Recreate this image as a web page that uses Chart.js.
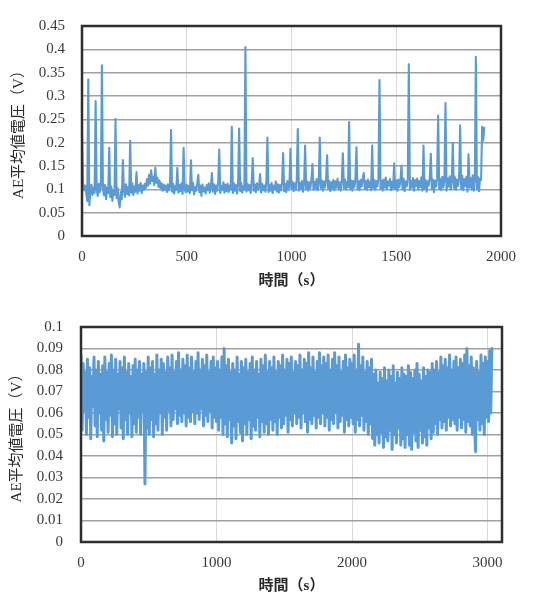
<!DOCTYPE html>
<html>
<head>
<meta charset="utf-8">
<script src="https://cdn.jsdelivr.net/npm/chart.js@4/dist/chart.umd.min.js"></script>
<style>
  html, body { margin: 0; padding: 0; background: #ffffff; }
  #wrap { position: relative; width: 541px; height: 595px; }
  #c1 { position: absolute; left: 0; top: 0; }
  #c2 { position: absolute; left: 0; top: 300px; }
</style>
</head>
<body>
<div id="wrap">
  <canvas id="c1" width="541" height="300"></canvas>
  <canvas id="c2" width="541" height="295"></canvas>
</div>
<script>
// ---------- DATA ----------
const xTitle = "時間（s）";
const yTitle = "AE平均値電圧（V）";

// Top chart: sampled every 5 s starting at 0 s
const topTimeStep = 5;
const topVoltages = [
  0.223,0.112,0.098,0.108,0.093,0.075,0.336,0.066,0.095,0.11,0.088,0.104,0.092,0.289,0.1,0.086,0.112,0.094,0.108,0.366,
  0.101,0.087,0.109,0.079,0.104,0.092,0.189,0.083,0.106,0.075,0.098,0.088,0.251,0.081,0.102,0.072,0.061,0.094,0.079,0.163,
  0.097,0.084,0.111,0.09,0.105,0.087,0.204,0.093,0.113,0.088,0.106,0.095,0.137,0.091,0.109,0.097,0.114,0.092,0.108,0.099,
  0.112,0.103,0.122,0.108,0.131,0.112,0.141,0.118,0.127,0.109,0.146,0.114,0.125,0.105,0.119,0.102,0.113,0.097,0.11,0.099,
  0.108,0.094,0.111,0.098,0.106,0.227,0.095,0.112,0.091,0.107,0.099,0.146,0.093,0.109,0.096,0.113,0.09,0.189,0.101,0.094,
  0.11,0.095,0.107,0.092,0.162,0.098,0.114,0.089,0.105,0.097,0.112,0.131,0.094,0.108,0.086,0.11,0.096,0.104,0.091,0.109,
  0.098,0.113,0.093,0.106,0.135,0.095,0.111,0.09,0.108,0.097,0.114,0.185,0.092,0.107,0.099,0.115,0.093,0.11,0.096,0.112,
  0.094,0.108,0.099,0.234,0.092,0.113,0.097,0.109,0.091,0.111,0.23,0.096,0.114,0.093,0.107,0.099,0.405,0.095,0.112,0.098,
  0.109,0.092,0.115,0.167,0.097,0.11,0.094,0.113,0.099,0.106,0.133,0.093,0.112,0.098,0.108,0.095,0.116,0.211,0.094,0.109,
  0.097,0.114,0.092,0.108,0.1,0.117,0.095,0.111,0.093,0.109,0.098,0.115,0.178,0.096,0.112,0.094,0.118,0.099,0.107,0.187,
  0.101,0.116,0.096,0.113,0.099,0.121,0.229,0.097,0.114,0.102,0.118,0.095,0.112,0.194,0.1,0.117,0.097,0.115,0.103,0.12,
  0.154,0.099,0.116,0.101,0.122,0.098,0.114,0.211,0.103,0.119,0.097,0.117,0.104,0.121,0.173,0.1,0.118,0.096,0.115,0.102,
  0.12,0.098,0.117,0.104,0.123,0.1,0.115,0.097,0.119,0.177,0.103,0.121,0.099,0.116,0.105,0.244,0.101,0.119,0.097,0.118,
  0.104,0.122,0.19,0.1,0.117,0.098,0.12,0.106,0.124,0.135,0.101,0.118,0.099,0.121,0.105,0.116,0.098,0.194,0.103,0.12,
  0.099,0.118,0.106,0.123,0.334,0.102,0.119,0.097,0.121,0.104,0.125,0.1,0.117,0.108,0.122,0.098,0.116,0.103,0.156,0.101,
  0.119,0.097,0.121,0.105,0.118,0.151,0.1,0.123,0.096,0.117,0.106,0.122,0.368,0.099,0.118,0.104,0.124,0.097,0.12,0.107,
  0.123,0.099,0.118,0.105,0.126,0.097,0.194,0.102,0.12,0.095,0.117,0.108,0.125,0.176,0.1,0.121,0.094,0.119,0.106,0.124,
  0.258,0.101,0.122,0.098,0.127,0.104,0.119,0.285,0.097,0.123,0.106,0.128,0.1,0.12,0.199,0.103,0.126,0.099,0.121,0.107,
  0.125,0.237,0.101,0.129,0.098,0.122,0.107,0.127,0.095,0.175,0.104,0.124,0.1,0.13,0.097,0.121,0.384,0.102,0.126,0.096,
  0.123,0.12,0.234,0.205,0.232
];
const topXTicks = [0, 500, 1000, 1500, 2000];
const topYTicks = [0, 0.05, 0.1, 0.15, 0.2, 0.25, 0.3, 0.35, 0.4, 0.45];

// Bottom chart: sampled every 8 s starting at 0 s
const bottomTimeStep = 8;
const bottomVoltages = [
  .087,.052,.083,.061,.079,.05,.085,.058,.081,.048,.077,.063,.086,.054,.08,.049,.084,.06,.078,.052,.082,.047,.086,.057,.079,
  .051,.083,.059,.087,.049,.08,.055,.085,.05,.078,.062,.084,.053,.081,.048,.086,.057,.079,.05,.083,.06,.077,.049,.082,.055,
  .085,.051,.08,.058,.084,.05,.078,.061,.083,.027,.079,.053,.086,.05,.081,.057,.084,.049,.078,.055,.087,.052,.08,.06,.085,
  .05,.083,.058,.079,.052,.086,.061,.081,.054,.087,.057,.079,.062,.084,.055,.088,.059,.08,.056,.085,.06,.082,.054,.087,.058,
  .081,.056,.086,.061,.079,.055,.084,.06,.088,.057,.08,.062,.085,.054,.082,.059,.087,.056,.079,.061,.084,.053,.086,.058,.081,
  .056,.084,.052,.08,.058,.086,.05,.09,.055,.082,.049,.085,.057,.079,.046,.083,.054,.08,.048,.086,.056,.078,.051,.084,.047,
  .081,.055,.085,.05,.079,.057,.083,.048,.086,.054,.08,.052,.084,.058,.078,.049,.085,.056,.082,.051,.087,.055,.079,.05,.084,
  .057,.081,.052,.086,.056,.079,.05,.084,.058,.082,.053,.087,.055,.08,.059,.085,.051,.083,.057,.086,.054,.079,.06,.084,.055,
  .082,.058,.087,.053,.08,.06,.085,.056,.083,.051,.088,.057,.081,.055,.086,.059,.079,.053,.084,.058,.088,.055,.082,.06,.086,
  .054,.083,.058,.087,.052,.08,.057,.085,.055,.088,.06,.082,.053,.086,.056,.079,.059,.084,.051,.087,.057,.081,.054,.085,.058,
  .083,.055,.087,.051,.08,.057,.092,.054,.082,.059,.086,.052,.079,.056,.084,.05,.081,.055,.085,.048,.078,.045,.08,.05,.074,
  .046,.079,.051,.076,.044,.081,.049,.075,.047,.08,.052,.077,.043,.082,.05,.074,.046,.079,.053,.076,.045,.081,.048,.078,.044,
  .077,.05,.082,.045,.079,.043,.076,.051,.08,.047,.083,.044,.078,.052,.075,.046,.081,.049,.077,.045,.08,.053,.079,.048,.083,
  .051,.08,.055,.084,.05,.079,.057,.086,.053,.082,.056,.085,.052,.081,.058,.087,.054,.08,.057,.084,.055,.086,.052,.081,.058,
  .085,.053,.083,.057,.087,.051,.09,.056,.082,.054,.086,.05,.081,.055,.042,.084,.057,.079,.052,.087,.055,.083,.05,.086,.058,
  .084,.056,.089,.06,.09
];
const bottomXTicks = [0, 1000, 2000, 3000];
const bottomYTicks = [0, 0.01, 0.02, 0.03, 0.04, 0.05, 0.06, 0.07, 0.08, 0.09, 0.1];

// ---------- STYLE / BUILD ----------
const LINE_COLOR = '#5B9BD5';
const TICK_FONT = { family: "'Liberation Serif', 'Times New Roman', serif", size: 15 };
const TITLE_FAMILY = "'Liberation Serif', 'Noto Sans CJK JP', serif";

const framePlugin = {
  id: 'frame',
  afterDraw(chart) {
    const { ctx, chartArea: a } = chart;
    ctx.save();
    ctx.strokeStyle = '#2e2e2e';
    ctx.lineWidth = 2.5;
    ctx.strokeRect(a.left, a.top, a.right - a.left, a.bottom - a.top);
    ctx.restore();
  }
};

function toPoints(values, step) {
  return values.map((v, i) => ({ x: i * step, y: v }));
}

function fmtY(v) { return String(Number(Number(v).toFixed(3))); }

function makeChart(canvasId, cfg) {
  return new Chart(document.getElementById(canvasId), {
    type: 'line',
    data: {
      datasets: [{
        data: toPoints(cfg.values, cfg.step),
        borderColor: LINE_COLOR,
        borderWidth: cfg.lineWidth,
        borderJoinStyle: 'round',
        borderCapStyle: 'round',
        pointRadius: 0,
        tension: 0,
        fill: false
      }]
    },
    options: {
      responsive: false,
      animation: false,
      parsing: false,
      normalized: true,
      layout: { padding: cfg.padding },
      plugins: { legend: { display: false }, tooltip: { enabled: false } },
      scales: {
        x: {
          type: 'linear',
          min: cfg.xMin, max: cfg.xMax,
          afterBuildTicks: s => { s.ticks = cfg.xTicks.map(v => ({ value: v })); },
          afterFit: s => { s.height = cfg.xHeight; },
          ticks: { font: TICK_FONT, color: '#3a3a3a', padding: 12, maxRotation: 0,
                   callback: v => String(v) },
          grid: { color: '#d9d9d9', lineWidth: 1, drawTicks: false },
          border: { display: false },
          title: { display: true, text: xTitle, color: '#2a2a2a',
                   font: { family: TITLE_FAMILY, size: 15, weight: 'bold' },
                   padding: { top: 0, bottom: cfg.xTitlePad } }
        },
        y: {
          type: 'linear',
          min: cfg.yMin, max: cfg.yMax,
          afterBuildTicks: s => { s.ticks = cfg.yTicks.map(v => ({ value: v })); },
          afterFit: s => { s.width = cfg.yWidth; },
          ticks: { font: TICK_FONT, color: '#3a3a3a', padding: cfg.yTickPad,
                   callback: v => fmtY(v) },
          grid: { color: '#a0a0a0', lineWidth: 1.5, drawTicks: false },
          border: { display: false },
          title: { display: true, text: yTitle, color: '#2a2a2a',
                   font: { family: TITLE_FAMILY, size: 15 },
                   padding: { top: cfg.yTitlePad, bottom: 0 } }
        }
      }
    },
    plugins: [framePlugin]
  });
}

makeChart('c1', {
  values: topVoltages, step: topTimeStep, lineWidth: 2.1,
  xMin: 0, xMax: 2000, yMin: 0, yMax: 0.45,
  xTicks: topXTicks, yTicks: topYTicks,
  padding: { left: 0, top: 19, right: 40, bottom: 0 },
  yWidth: 82, xHeight: 64, yTickPad: 17, xTitlePad: 10, yTitlePad: 10
});

makeChart('c2', {
  values: bottomVoltages, step: bottomTimeStep, lineWidth: 3.0,
  xMin: 0, xMax: 3107, yMin: 0, yMax: 0.1,
  xTicks: bottomXTicks, yTicks: bottomYTicks,
  padding: { left: 0, top: 25, right: 39, bottom: 0 },
  yWidth: 81, xHeight: 53, yTickPad: 18, xTitlePad: 0, yTitlePad: 8
});
</script>
</body>
</html>
